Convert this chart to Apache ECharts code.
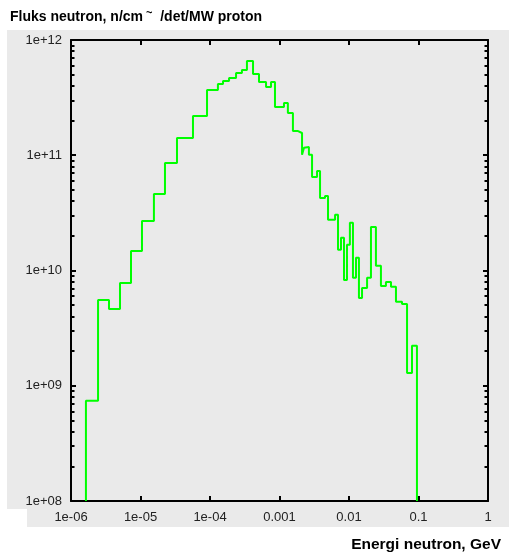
<!DOCTYPE html>
<html>
<head>
<meta charset="utf-8">
<script src="https://cdn.jsdelivr.net/npm/echarts@6/dist/echarts.min.js"></script>
<style>
html,body{margin:0;padding:0;background:#fff;}
#chart{width:509px;height:560px;}
</style>
</head>
<body>
<div id="chart"></div>
<script>
// Bin edges (energy, GeV) and flux per bin (n/cm2/det/MW proton)
var energyEdges = [
  1.64e-6, 2.45e-6, 3.52e-6, 5.07e-6, 7.3e-6, 1.05e-5, 1.56e-5, 2.25e-5, 3.35e-5, 5.69e-5,
  9.06e-5, 1.30e-4, 1.54e-4, 1.88e-4, 2.37e-4, 2.88e-4, 3.40e-4, 4.16e-4, 5.07e-4, 6.40e-4,
  7.55e-4, 8.61e-4, 1.16e-3, 1.32e-3, 1.56e-3, 1.85e-3, 2.11e-3, 2.25e-3, 2.40e-3, 2.65e-3,
  2.94e-3, 3.47e-3, 3.83e-3, 4.52e-3, 4.99e-3, 6.30e-3, 6.95e-3, 7.67e-3, 8.47e-3, 9.35e-3,
  1.03e-2, 1.14e-2, 1.26e-2, 1.39e-2, 1.54e-2, 1.82e-2, 2.07e-2, 2.44e-2, 2.88e-2, 3.40e-2,
  4.02e-2, 4.74e-2, 5.79e-2, 6.84e-2, 8.06e-2, 9.50e-2
];
var flux = [
  7.4e8, 5.56e9, 4.64e9, 7.8e9, 1.48e10, 2.69e10, 4.62e10, 8.57e10, 1.41e11, 2.19e11,
  3.68e11, 4.15e11, 4.41e11, 4.68e11, 5.17e11, 5.49e11, 6.58e11, 5.07e11, 4.32e11, 3.91e11,
  4.32e11, 2.62e11, 2.84e11, 2.33e11, 1.62e11, 1.56e11, 1.01e11, 1.16e11, 1.18e11, 1.01e11,
  6.48e10, 7.31e10, 4.26e10, 4.44e10, 2.75e10, 3.04e10, 1.51e10, 1.92e10, 8.29e9, 1.67e10,
  2.59e10, 8.63e9, 1.29e10, 5.78e9, 7.06e9, 8.63e9, 2.39e10, 1.10e10, 7.35e9, 7.96e9,
  7.21e9, 5.35e9, 5.13e9, 1.29e9, 2.22e9
];
var xTickValues = [1e-6, 1e-5, 1e-4, 1e-3, 1e-2, 1e-1, 1];
var xTickLabels = ['1e-06', '1e-05', '1e-04', '0.001', '0.01', '0.1', '1'];
var yTickValues = [1e8, 1e9, 1e10, 1e11, 1e12];
var yTickLabels = ['1e+08', '1e+09', '1e+10', '1e+11', '1e+12'];
var yMinorTicks = [];
for (var d = 8; d < 12; d++) {
  for (var m = 2; m <= 9; m++) yMinorTicks.push(m * Math.pow(10, d));
}

var yMin = 1e8, yMax = 1e12, xMin = 1e-6, xMax = 1;

var seriesData = [[energyEdges[0], yMin]];
for (var i = 0; i < flux.length; i++) seriesData.push([energyEdges[i], flux[i]]);
seriesData.push([energyEdges[energyEdges.length - 1], yMin]);

function lookup(vals, labels) {
  return function (v) {
    for (var k = 0; k < vals.length; k++) {
      if (Math.abs(Math.log10(vals[k]) - Math.log10(v)) < 1e-6) return labels[k];
    }
    return '';
  };
}

var lineStyleAxis = { color: '#000', width: 2 };
var labelStyle = { color: '#222', fontSize: 13, fontFamily: 'Liberation Sans, Arial, sans-serif' };

function yAxisDef(pos, major, showLabel) {
  return {
    type: 'log', logBase: 10, min: yMin, max: yMax, position: pos,
    axisLine: { show: true, onZero: false, lineStyle: major ? lineStyleAxis : { color: 'rgba(0,0,0,0)', width: 0 } },
    axisTick: { show: true, inside: true, length: major ? 5 : 3.5,
      customValues: major ? yTickValues : yMinorTicks,
      lineStyle: { color: '#000', width: major ? 2 : 2 } },
    axisLabel: { show: showLabel, customValues: yTickValues, formatter: lookup(yTickValues, yTickLabels),
      margin: 9, color: labelStyle.color, fontSize: labelStyle.fontSize, fontFamily: labelStyle.fontFamily },
    splitLine: { show: false }, minorTick: { show: false }, minorSplitLine: { show: false }
  };
}
function xAxisDef(pos, showLabel) {
  return {
    type: 'log', logBase: 10, min: xMin, max: xMax, position: pos,
    axisLine: { show: true, onZero: false, lineStyle: lineStyleAxis },
    axisTick: { show: true, inside: true, length: 5, customValues: xTickValues,
      lineStyle: { color: '#000', width: 2 } },
    axisLabel: { show: showLabel, customValues: xTickValues, formatter: lookup(xTickValues, xTickLabels),
      margin: 10, color: labelStyle.color, fontSize: labelStyle.fontSize, fontFamily: labelStyle.fontFamily },
    splitLine: { show: false }
  };
}

var chart = echarts.init(document.getElementById('chart'), null, { renderer: 'canvas' });
chart.setOption({
  animation: false,
  backgroundColor: '#ffffff',
  graphic: [
    { type: 'rect', z: -10, silent: true, shape: { x: 7, y: 30, width: 502, height: 497 }, style: { fill: '#eaeaea' } },
    { type: 'rect', z: -9, silent: true, shape: { x: 0, y: 509, width: 27, height: 18 }, style: { fill: '#ffffff' } }
  ],
  title: [
    {
      text: 'Fluks neutron, n/cm{sup|~}  /det/MW proton',
      left: 10, top: 7, padding: 0,
      textStyle: { fontSize: 14, fontWeight: 'bold', color: '#000', fontFamily: 'Liberation Sans, Arial, sans-serif',
        rich: { sup: { fontSize: 11, fontWeight: 'bold', color: '#000', verticalAlign: 'top', padding: [0, 0, 10, 3] } } }
    },
    {
      text: 'Energi neutron, GeV',
      right: 8, top: 537, padding: 0,
      textStyle: { fontSize: 15.5, fontWeight: 'bold', color: '#000', fontFamily: 'Liberation Sans, Arial, sans-serif' }
    }
  ],
  grid: { left: 71, right: 21, top: 40, bottom: 59, containLabel: false },
  xAxis: [xAxisDef('bottom', true), xAxisDef('top', false)],
  yAxis: [yAxisDef('left', true, true), yAxisDef('left', false, false), yAxisDef('right', true, false), yAxisDef('right', false, false)],
  series: [{
    type: 'line',
    xAxisIndex: 0, yAxisIndex: 0,
    data: seriesData,
    step: 'end',
    symbol: 'none',
    lineStyle: { color: '#00ff00', width: 2 },
    clip: true
  }]
});
</script>
</body>
</html>
